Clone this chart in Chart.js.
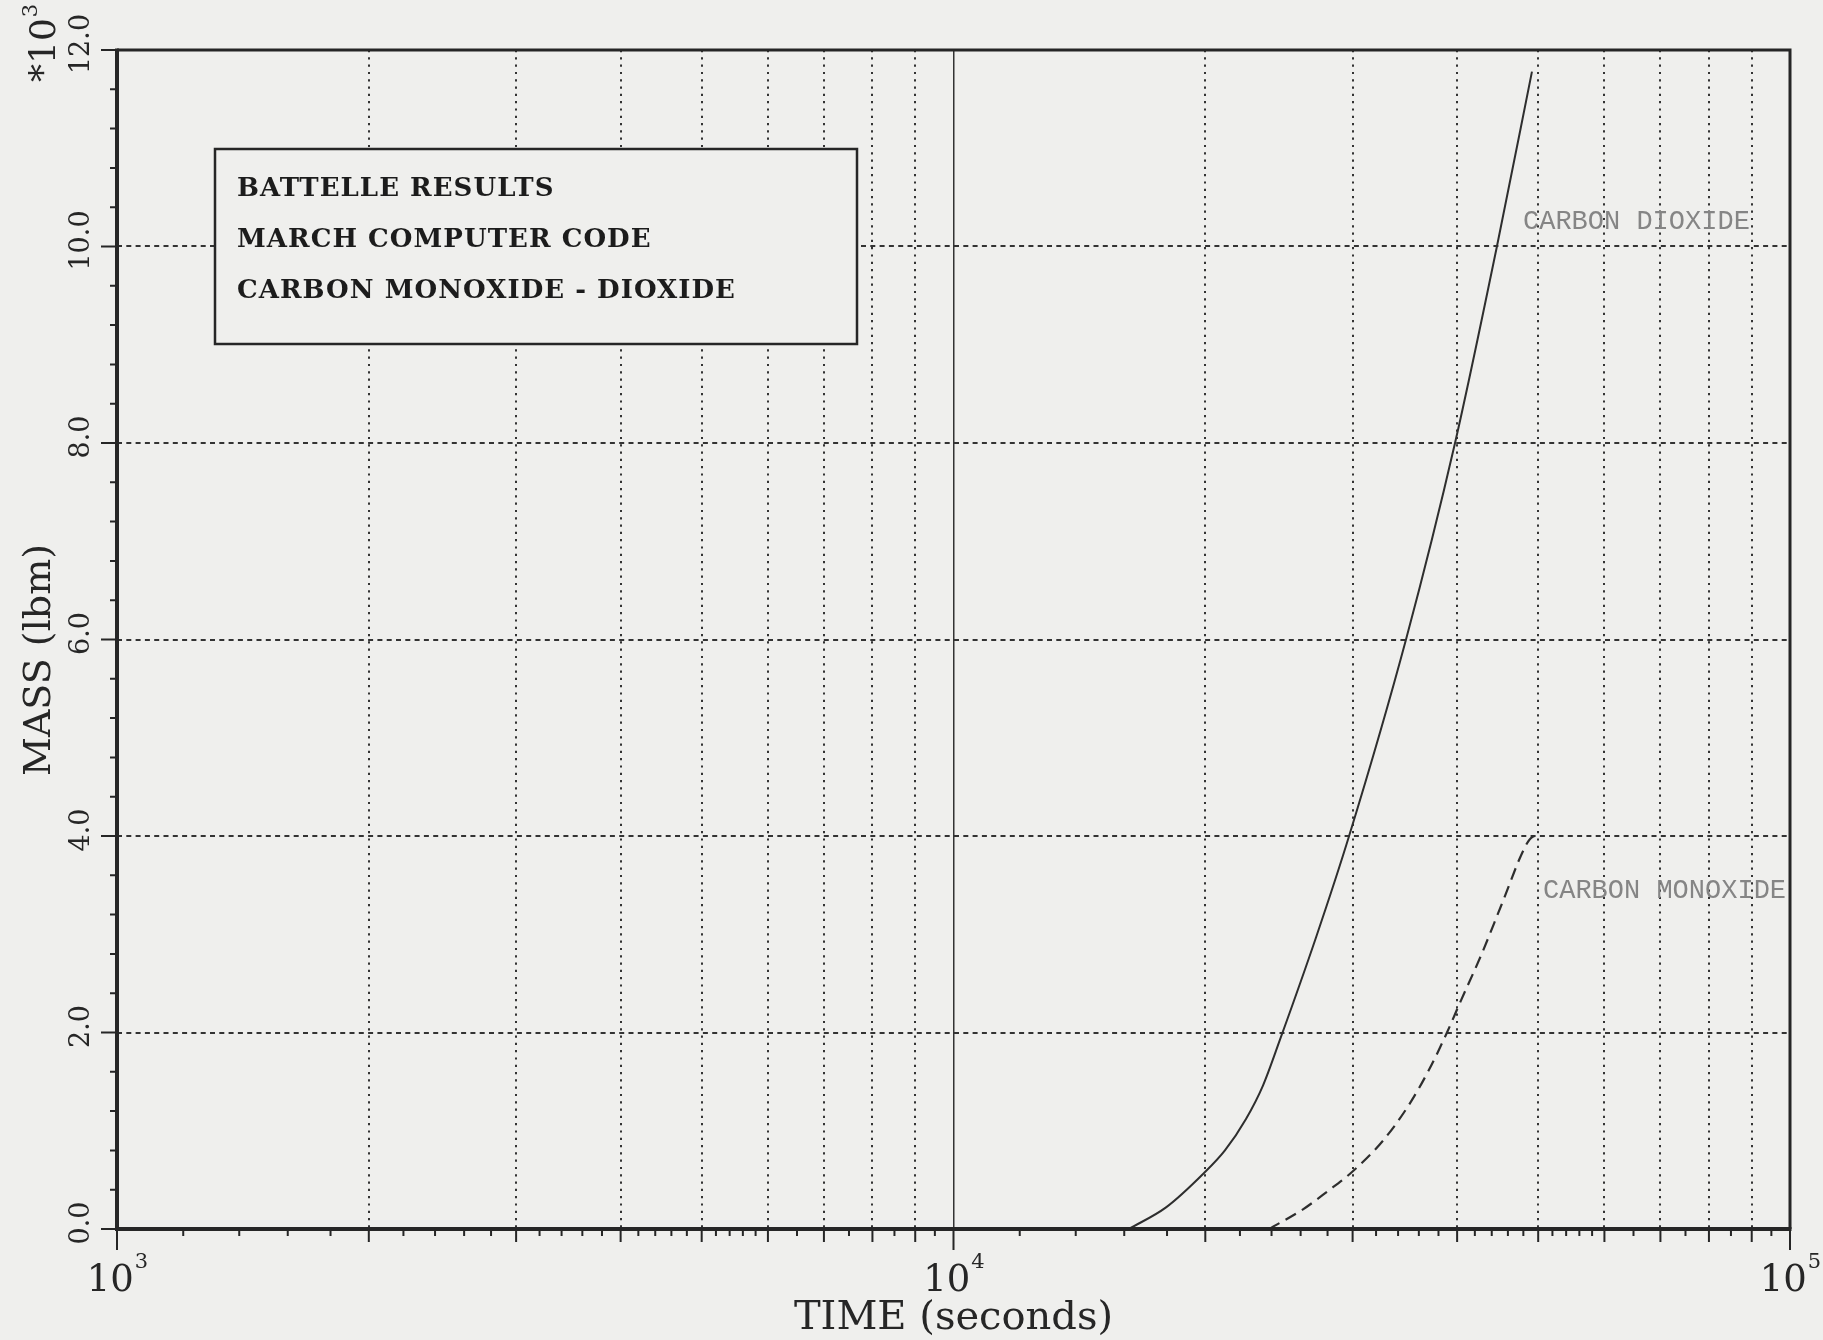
<!DOCTYPE html>
<html>
<head>
<meta charset="utf-8">
<title>Carbon monoxide - dioxide mass</title>
<script src="https://cdn.jsdelivr.net/npm/chart.js@4.4.1/dist/chart.umd.min.js"></script>
<style>
  html, body { margin: 0; padding: 0; background: #efefed; }
  canvas { display: block; }
</style>
</head>
<body>
<canvas id="massChart" width="1823" height="1340"></canvas>
<script>
// values, mass in units of 10^3 lbm
const co2Time = [16200, 17950, 19930, 21110, 22370, 23440, 24570, 27130, 29710, 34750, 39770, 44630, 49150];
const co2Mass = [0, 0.22, 0.57, 0.80, 1.12, 1.46, 1.93, 2.97, 4.0, 6.0, 8.0, 10.0, 11.78];

const coTime = [23830, 26170, 27960, 29950, 32620, 34950, 37020, 38900, 40300, 42800, 45200, 48300, 49200, 49830];
const coMass = [0, 0.20, 0.38, 0.58, 0.90, 1.25, 1.62, 2.0, 2.30, 2.80, 3.30, 3.90, 3.99, 4.0];

const xGridValues = [1000, 2000, 3000, 4000, 5000, 6000, 7000, 8000, 9000,
                     10000, 20000, 30000, 40000, 50000, 60000, 70000, 80000, 90000, 100000];
const xMinorSteps = [1.2, 1.4, 1.6, 1.8, 2.2, 2.4, 2.6, 2.8, 3.2, 3.4, 3.6, 3.8,
                     4.2, 4.4, 4.6, 4.8, 5.2, 5.4, 5.6, 5.8, 6.5, 7.5, 8.5, 9.5];
const xLabelValues = [1000, 10000, 100000];
const xLabelExps = ['3', '4', '5'];

const yTicks = [0, 2, 4, 6, 8, 10, 12];
const yTickLabels = ['0.0', '2.0', '4.0', '6.0', '8.0', '10.0', '12.0'];

const legendLines = ['BATTELLE RESULTS', 'MARCH COMPUTER CODE', 'CARBON MONOXIDE - DIOXIDE'];
const curveLabels = ['CARBON DIOXIDE', 'CARBON MONOXIDE'];

const PAPER = '#efefed';
const INK = '#262626';

function toPoints(xs, ys) {
    return xs.map((x, i) => ({ x: x, y: ys[i] }));
}

const paperPlugin = {
    id: 'paper',
    beforeDraw(chart) {
        const ctx = chart.ctx;
        ctx.save();
        ctx.fillStyle = PAPER;
        ctx.fillRect(0, 0, chart.width, chart.height);
        ctx.restore();
    },
    beforeDatasetsDraw(chart) {
        // legend box hides the grid behind it
        const ctx = chart.ctx;
        ctx.save();
        ctx.fillStyle = PAPER;
        ctx.fillRect(215, 149, 642, 195);
        ctx.strokeStyle = INK;
        ctx.lineWidth = 2.5;
        ctx.strokeRect(215, 149, 642, 195);

        ctx.fillStyle = '#1c1c1c';
        ctx.font = 'bold 26px "DejaVu Serif"';
        ctx.textBaseline = 'middle';
        ctx.textAlign = 'left';
        // spread letters so the longest line is as wide as on the plot
        const longest = legendLines[2];
        const spacing = Math.max(0, (498 - ctx.measureText(longest).width) / (longest.length - 1));
        if ('letterSpacing' in ctx) ctx.letterSpacing = spacing.toFixed(2) + 'px';
        legendLines.forEach((line, i) => {
            ctx.fillText(line, 237, 189 + i * 51);
        });
        ctx.restore();
    },
    afterDraw(chart) {
        const ctx = chart.ctx;
        const area = chart.chartArea;
        const xs = chart.scales.x;
        const ys = chart.scales.y;

        ctx.save();
        ctx.strokeStyle = INK;
        ctx.lineCap = 'butt';

        // frame
        ctx.lineWidth = 3;
        ctx.beginPath();
        ctx.moveTo(area.left, area.top);
        ctx.lineTo(area.right, area.top);
        ctx.lineTo(area.right, area.bottom);
        ctx.stroke();
        ctx.lineWidth = 4;
        ctx.beginPath();
        ctx.moveTo(area.left, area.top - 1.5);
        ctx.lineTo(area.left, area.bottom);
        ctx.lineTo(area.right + 1.5, area.bottom);
        ctx.stroke();

        // x ticks
        ctx.lineWidth = 2;
        ctx.beginPath();
        xGridValues.forEach(v => {
            const px = xs.getPixelForValue(v);
            const len = xLabelValues.includes(v) ? 21 : 13;
            ctx.moveTo(px, area.bottom);
            ctx.lineTo(px, area.bottom + len);
        });
        [1000, 10000].forEach(decade => {
            xMinorSteps.forEach(s => {
                const px = xs.getPixelForValue(decade * s);
                ctx.moveTo(px, area.bottom);
                ctx.lineTo(px, area.bottom + 7);
            });
        });
        // y ticks
        for (let v = 0; v <= 12.001; v += 0.4) {
            const py = ys.getPixelForValue(v);
            const major = Math.abs(v / 2 - Math.round(v / 2)) < 0.01;
            ctx.moveTo(area.left, py);
            ctx.lineTo(area.left - (major ? 16 : 7), py);
        }
        ctx.stroke();

        ctx.fillStyle = INK;

        // y tick labels, rotated
        ctx.font = '27px "DejaVu Serif"';
        ctx.textAlign = 'center';
        ctx.textBaseline = 'middle';
        yTicks.forEach((v, i) => {
            const py = ys.getPixelForValue(v);
            ctx.save();
            ctx.translate(82, py - 6);
            ctx.rotate(-Math.PI / 2);
            ctx.fillText(yTickLabels[i], 0, 0);
            ctx.restore();
        });

        // x tick labels 10^n
        ctx.textAlign = 'left';
        ctx.textBaseline = 'alphabetic';
        xLabelValues.forEach((v, i) => {
            const px = xs.getPixelForValue(v);
            ctx.font = '37px "DejaVu Serif"';
            const w1 = ctx.measureText('10').width;
            ctx.font = '21px "DejaVu Serif"';
            const w2 = ctx.measureText(xLabelExps[i]).width;
            const start = px - (w1 + w2) / 2;
            ctx.font = '37px "DejaVu Serif"';
            ctx.fillText('10', start, 1291);
            ctx.font = '21px "DejaVu Serif"';
            ctx.fillText(xLabelExps[i], start + w1 + 1, 1268);
        });

        // axis titles
        ctx.font = '40px "DejaVu Serif"';
        ctx.textAlign = 'center';
        ctx.fillText('TIME (seconds)', (area.left + area.right) / 2, 1329);

        ctx.save();
        ctx.translate(40, 660);
        ctx.rotate(-Math.PI / 2);
        ctx.font = '38px "DejaVu Serif"';
        ctx.textBaseline = 'middle';
        ctx.fillText('MASS (lbm)', 0, 0);
        ctx.restore();

        // *10^3 multiplier
        ctx.save();
        ctx.translate(0, 82);
        ctx.rotate(-Math.PI / 2);
        ctx.textAlign = 'left';
        ctx.textBaseline = 'alphabetic';
        ctx.font = '36px "DejaVu Serif"';
        const wm = ctx.measureText('*10').width;
        ctx.fillText('*10', 0, 55);
        ctx.font = '21px "DejaVu Serif"';
        ctx.fillText('3', wm + 1, 37);
        ctx.restore();

        // curve labels
        ctx.fillStyle = '#858585';
        ctx.font = '27px "Liberation Mono"';
        ctx.textAlign = 'left';
        ctx.textBaseline = 'middle';
        ctx.fillText(curveLabels[0], 1523, 222);
        ctx.fillText(curveLabels[1], 1543, 891);

        ctx.restore();
    }
};

function drawChart() {
    const ctx = document.getElementById('massChart').getContext('2d');
    new Chart(ctx, {
        type: 'line',
        data: {
            datasets: [{
                label: 'Carbon dioxide',
                data: toPoints(co2Time, co2Mass),
                borderColor: '#2e2e2e',
                borderWidth: 2,
                pointRadius: 0,
                cubicInterpolationMode: 'monotone',
                fill: false
            }, {
                label: 'Carbon monoxide',
                data: toPoints(coTime, coMass),
                borderColor: '#2e2e2e',
                borderWidth: 2.2,
                borderDash: [12, 7],
                pointRadius: 0,
                cubicInterpolationMode: 'monotone',
                fill: false
            }]
        },
        options: {
            responsive: false,
            animation: false,
            layout: { padding: { left: 117, right: 33, top: 50, bottom: 111 } },
            plugins: {
                legend: { display: false },
                tooltip: { enabled: false }
            },
            scales: {
                x: {
                    type: 'logarithmic',
                    min: 1000,
                    max: 100000,
                    afterBuildTicks: scale => {
                        scale.ticks = xGridValues.map(v => ({ value: v }));
                    },
                    ticks: { display: false },
                    grid: {
                        drawTicks: false,
                        color: c => (c.tick && (c.tick.value === 1000 || c.tick.value === 100000)) ? 'rgba(0,0,0,0)' : '#333',
                        lineWidth: c => (c.tick && c.tick.value === 10000) ? 1.5 : 2
                    },
                    border: {
                        display: false,
                        dash: c => (c.tick && c.tick.value === 10000) ? [] : [2.2, 5.1]
                    }
                },
                y: {
                    type: 'linear',
                    min: 0,
                    max: 12,
                    afterBuildTicks: scale => {
                        scale.ticks = yTicks.map(v => ({ value: v }));
                    },
                    ticks: { display: false },
                    grid: {
                        drawTicks: false,
                        color: c => (c.tick && (c.tick.value === 0 || c.tick.value === 12)) ? 'rgba(0,0,0,0)' : '#333',
                        lineWidth: 2
                    },
                    border: { display: false, dash: [5, 4.3] }
                }
            }
        },
        plugins: [paperPlugin]
    });
}

window.onload = drawChart;
</script>
</body>
</html>
